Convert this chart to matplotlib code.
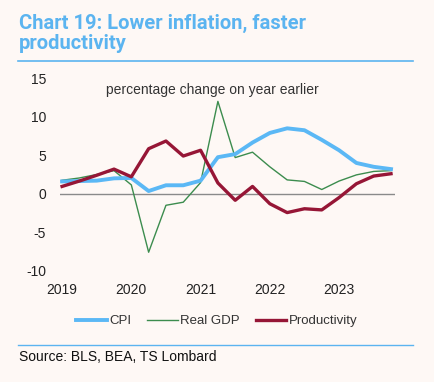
import matplotlib.pyplot as plt
import matplotlib as mpl

mpl.rcParams['font.family'] = ['Liberation Sans', 'DejaVu Sans']
mpl.rcParams['axes.unicode_minus'] = False

# quarterly, 2019Q1 - 2023Q4, % change on year earlier
quarters = list(range(20))
year_labels = ['2019', '2020', '2021', '2022', '2023']
year_ticks = [0, 4, 8, 12, 16]

cpi = [1.6, 1.65, 1.7, 2.0, 2.05, 0.35, 1.1, 1.1, 1.7, 4.75,
       5.15, 6.65, 7.9, 8.5, 8.25, 7.0, 5.65, 4.0, 3.5, 3.2]
gdp = [1.75, 2.05, 2.5, 3.0, 1.15, -7.6, -1.5, -1.1, 1.45, 12.0,
       4.7, 5.4, 3.5, 1.8, 1.6, 0.55, 1.65, 2.45, 2.9, 3.0]
prod = [0.95, 1.65, 2.4, 3.2, 2.2, 5.85, 6.85, 4.9, 5.65, 1.4,
        -0.85, 0.95, -1.3, -2.45, -1.95, -2.1, -0.5, 1.3, 2.3, 2.6]

W, H = 435, 382
bg = '#fef8f5'
blue = '#5bb4f0'

fig = plt.figure(figsize=(W / 100, H / 100), dpi=100, facecolor=bg)

def px(x, y):
    return x / W, 1 - y / H

# 标题和分隔线
fig.text(*px(19, 14), 'Chart 19: Lower inflation, faster\nproductivity', color=blue,
         fontsize=14.5, fontweight='bold', family=['Roboto', 'DejaVu Sans'],
         ha='left', va='top', linespacing=1.05)
fig.add_artist(plt.Line2D([18 / W, 413 / W], [1 - 61 / H] * 2, color=blue, lw=1.2))
fig.add_artist(plt.Line2D([18 / W, 413 / W], [1 - 345 / H] * 2, color=blue, lw=1.0))
fig.text(*px(19, 361), 'Source: BLS, BEA, TS Lombard', color='#111111', fontsize=10,
         ha='left', va='baseline')

ax = fig.add_axes([60 / W, (H - 270.7) / H, 335 / W, 192.4 / H])
ax.set_facecolor(bg)
ax.axhline(0, color='#8a8a8a', lw=1.0, zorder=1)
ax.plot(quarters, gdp, color='#3c8c4e', lw=1.0, label='Real GDP', zorder=2)
ax.plot(quarters, cpi, color='#5bb8f5', lw=2.8, label='CPI', zorder=3)
ax.plot(quarters, prod, color='#961636', lw=2.4, label='Productivity', zorder=4)

ax.set_xlim(-0.12, 19.23)
ax.set_ylim(-10, 15)
ax.set_yticks([-10, -5, 0, 5, 10, 15])
ax.set_xticks(year_ticks)
ax.set_xticklabels(year_labels)
ax.tick_params(length=0, labelsize=10, labelcolor='#222222')
ax.tick_params(axis='y', pad=10)
ax.tick_params(axis='x', pad=9)
for s in ax.spines.values():
    s.set_visible(False)

ax.text(0.454, 0.94, 'percentage change on year earlier', transform=ax.transAxes,
        ha='center', va='center', fontsize=10, color='#333333')

h, l = ax.get_legend_handles_labels()
order = [1, 0, 2]
fig.legend([h[i] for i in order], [l[i] for i in order], loc='center',
           bbox_to_anchor=px(217, 321), ncol=3, frameon=False, fontsize=9.5,
           handlelength=2.3, handletextpad=0.2, columnspacing=1.2,
           labelcolor='#333333')

fig.savefig('out.png', dpi=100, facecolor=bg)
